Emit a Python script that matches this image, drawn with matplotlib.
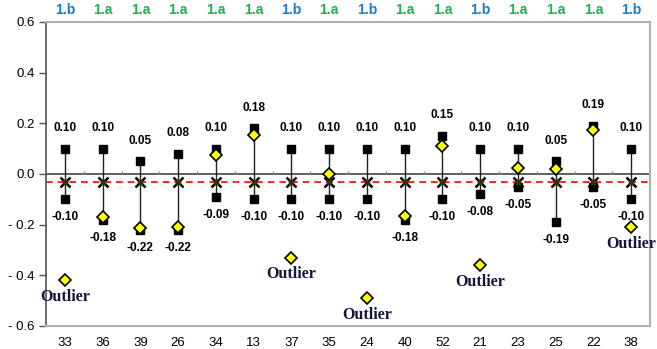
import numpy as np
import matplotlib.pyplot as plt

# data
samples = ["33", "36", "39", "26", "34", "13", "37", "35", "24", "40", "52", "21", "23", "25", "22", "38"]
groups = ["1.b", "1.a", "1.a", "1.a", "1.a", "1.a", "1.b", "1.a", "1.b", "1.a", "1.a", "1.b", "1.a", "1.a", "1.a", "1.b"]
upper = [0.10, 0.10, 0.05, 0.08, 0.10, 0.18, 0.10, 0.10, 0.10, 0.10, 0.15, 0.10, 0.10, 0.05, 0.19, 0.10]
lower = [-0.10, -0.18, -0.22, -0.22, -0.09, -0.10, -0.10, -0.10, -0.10, -0.18, -0.10, -0.08, -0.05, -0.19, -0.05, -0.10]
measured = [-0.42, -0.17, -0.215, -0.21, 0.075, 0.155, -0.33, 0.0, -0.49, -0.165, 0.11, -0.36, 0.022, 0.02, 0.175, -0.21]
outlier = [True, False, False, False, False, False, True, False, True, False, False, True, False, False, False, True]
mean_value = -0.03

group_colors = {"1.a": "#22ad50", "1.b": "#1f78c8"}

x = np.arange(len(samples))

fig = plt.figure(figsize=(6.57, 3.49), dpi=100)
ax = fig.add_axes([46 / 657, 23 / 349, 604 / 657, 304 / 349])

# range lines and end squares
ax.vlines(x, lower, upper, color="#222222", lw=1.0, zorder=2)
ax.plot(x, upper, "s", color="black", ms=5.5, zorder=3)
ax.plot(x, lower, "s", color="black", ms=5.5, zorder=3)

# mean line with x markers
ax.axhline(mean_value, color="red", ls=(0, (4, 3)), lw=1.2, zorder=2)
ax.plot(x, [mean_value] * len(x), "x", color="black", ms=7, mew=1.8, zorder=4)
ax.plot(x, [mean_value] * len(x), "s", color="#333300", ms=2.5, zorder=5)

# measured values
ax.plot(x, measured, "D", color="#ffff00", mec="black", mew=1.2, ms=6.5, zorder=6)

# zero line and category ticks
ax.axhline(0, color="#333333", lw=1.1, zorder=1)
ax.vlines(x[:-1] + 0.5, 0, 0.012, color="#888888", lw=1.0, zorder=1)

for i in range(len(samples)):
    ax.annotate(f"{upper[i]:.2f}", (x[i], upper[i]), xytext=(0, 15), textcoords="offset points",
                ha="center", va="center", fontsize=8.5, fontweight="bold", family="Liberation Sans")
    ax.annotate(f"{lower[i]:.2f}", (x[i], lower[i]), xytext=(0, -13), textcoords="offset points",
                ha="center", va="center", fontsize=8.5, fontweight="bold", family="Liberation Sans")
    if outlier[i]:
        ax.annotate("Outlier", (x[i], measured[i]), xytext=(0, -12), textcoords="offset points",
                    ha="center", va="center", fontsize=11.5, fontweight="bold",
                    family="Liberation Serif", color="#15163a")
    ax.text(x[i], 1.04, groups[i], transform=ax.get_xaxis_transform(), ha="center", va="center",
            fontsize=10, fontweight="bold", color=group_colors[groups[i]], family="Liberation Sans")

ax.set_xlim(-0.5, len(samples) - 0.5)
ax.set_ylim(-0.6, 0.6)
ax.set_yticks([0.6, 0.4, 0.2, 0.0, -0.2, -0.4, -0.6])
ax.set_yticklabels(["0.6", "0.4", "0.2", "0.0", "- 0.2", "- 0.4", "- 0.6"], family="Liberation Sans", fontsize=9.5)
ax.set_xticks(x)
ax.set_xticklabels(samples, family="Liberation Sans", fontsize=9.5)
ax.tick_params(axis="x", length=0, pad=8)
ax.tick_params(axis="y", length=5, width=1, color="#555555", pad=3)

for side in ["top", "right", "bottom"]:
    ax.spines[side].set_color("#b0b0b0")
    ax.spines[side].set_linewidth(1.5)
ax.spines["left"].set_color("#555555")
ax.spines["left"].set_linewidth(1.2)

fig.savefig("out.png", dpi=100)
